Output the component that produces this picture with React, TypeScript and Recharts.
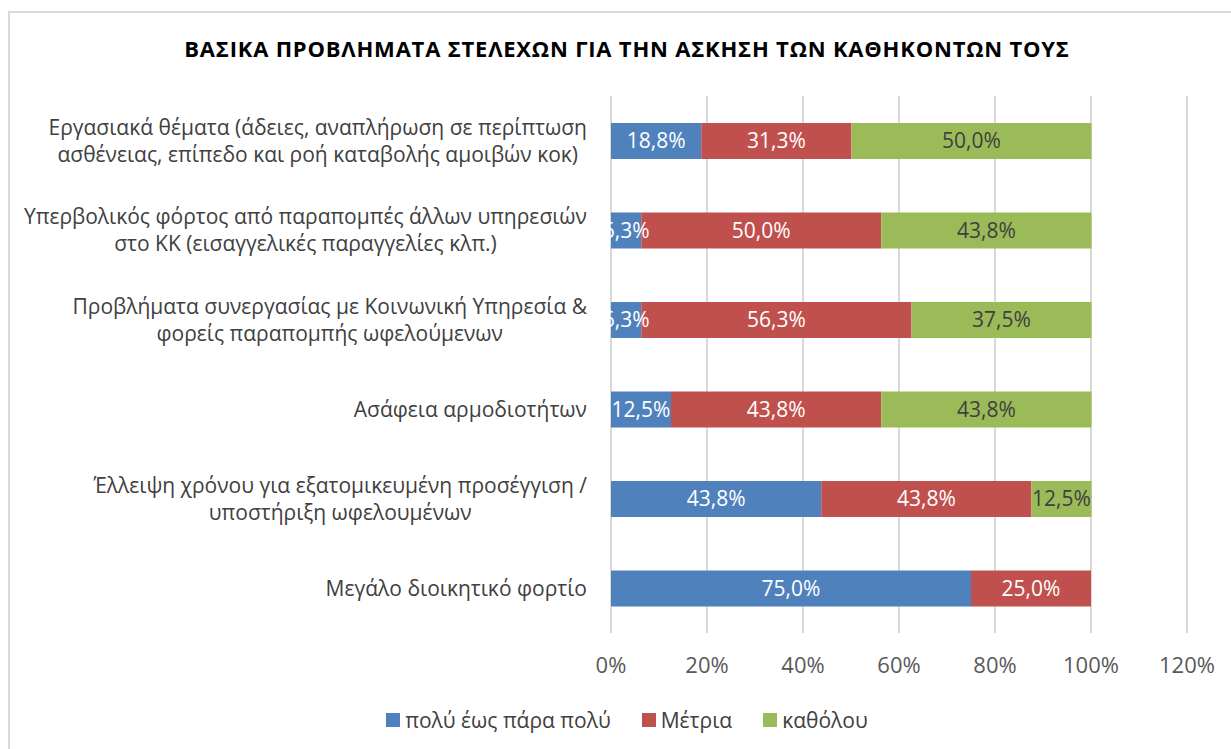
import React from "react";
import { BarChart, Bar, XAxis, YAxis, CartesianGrid, LabelList } from "recharts";

const title = "ΒΑΣΙΚΑ ΠΡΟΒΛΗΜΑΤΑ ΣΤΕΛΕΧΩΝ ΓΙΑ ΤΗΝ ΑΣΚΗΣΗ ΤΩΝ ΚΑΘΗΚΟΝΤΩΝ ΤΟΥΣ";

const categoryLines: string[][] = [
  ["Εργασιακά θέματα (άδειες, αναπλήρωση σε περίπτωση", "ασθένειας, επίπεδο και ροή καταβολής αμοιβών κοκ)"],
  ["Υπερβολικός φόρτος από παραπομπές άλλων υπηρεσιών", "στο ΚΚ (εισαγγελικές παραγγελίες κλπ.)"],
  ["Προβλήματα συνεργασίας με Κοινωνική Υπηρεσία &", "φορείς παραπομπής ωφελούμενων"],
  ["Ασάφεια αρμοδιοτήτων"],
  ["Έλλειψη χρόνου για εξατομικευμένη προσέγγιση /", "υποστήριξη ωφελουμένων"],
  ["Μεγάλο διοικητικό φορτίο"],
];

const seriesNames = ["πολύ έως πάρα πολύ", "Μέτρια", "καθόλου"];
const veryMuch = [18.8, 6.3, 6.3, 12.5, 43.8, 75.0];
const moderate = [31.3, 50.0, 56.3, 43.8, 43.8, 25.0];
const notAtAll = [50.0, 43.8, 37.5, 43.8, 12.5, 0];
const xTicks = [0, 20, 40, 60, 80, 100, 120];

const colors = ["#4F81BD", "#C0504D", "#9BBB59"];
const FONT = "'Open Sans', 'DejaVu Sans', sans-serif";

const data = categoryLines.map((lines, i) => ({
  name: lines.join(" "),
  a: veryMuch[i],
  b: moderate[i],
  c: notAtAll[i],
}));

let ctx: CanvasRenderingContext2D | null = null;
function textWidth(text: string, font: string) {
  if (!ctx) ctx = document.createElement("canvas").getContext("2d");
  if (!ctx) return text.length * 10;
  ctx.font = font;
  return ctx.measureText(text).width;
}

function CategoryTick(props: any) {
  const { x, y, payload } = props;
  const idx = data.findIndex(d => d.name === payload.value);
  const lines = categoryLines[idx] || [payload.value];
  const maxW = Math.max(...lines.map(l => textWidth(l, "21px 'Open Sans'")));
  const cx = x - maxW / 2;
  const lineH = 27;
  const startY = y - ((lines.length - 1) * lineH) / 2;
  return (
    <text x={cx} y={startY} textAnchor="middle" fill="#404040" fontSize={21} fontFamily={FONT}>
      {lines.map((l, i) => (
        <tspan key={i} x={cx} y={startY + i * lineH} dy="0.35em">{l}</tspan>
      ))}
    </text>
  );
}

const fmt = (v: any) => (v ? Number(v).toFixed(1).replace(".", ",") + "%" : "");

export default function App() {
  return (
    <div style={{ position: "fixed", left: 0, top: 0, width: 1231, height: 749, overflow: "hidden", background: "#fff" }}>
      <div
        style={{
          position: "absolute",
          left: 8,
          top: 11,
          width: 1300,
          height: 800,
          border: "2px solid #d9d9d9",
          fontFamily: FONT,
        }}
      >
        <div
          style={{
            position: "absolute",
            left: 0,
            width: 1234,
            top: 20,
            textAlign: "center",
            fontWeight: 700,
            fontSize: 22,
            color: "#000",
            letterSpacing: 0.8,
          }}
        >
          {title}
        </div>
        <BarChart
          width={1221}
          height={736}
          data={data}
          layout="vertical"
          margin={{ top: 83, right: 44, left: 0, bottom: 76 }}
          barSize={36}
        >
          <CartesianGrid horizontal={false} stroke="#d9d9d9" strokeWidth={2} />
          <XAxis
            type="number"
            domain={[0, 120]}
            ticks={xTicks}
            tickFormatter={(v: number) => v + "%"}
            axisLine={false}
            tickLine={false}
            tickSize={0}
            tickMargin={24}
            height={40}
            tick={{ fill: "#595959", fontSize: 22, fontFamily: FONT }}
          />
          <YAxis
            type="category"
            dataKey="name"
            width={601}
            axisLine={false}
            tickLine={false}
            tickSize={0}
            tickMargin={24}
            tick={<CategoryTick />}
            interval={0}
          />
          {["a", "b", "c"].map((k, i) => (
            <Bar key={k} dataKey={k} stackId="s" fill={colors[i]} name={seriesNames[i]} isAnimationActive={false}>
              <LabelList
                dataKey={k}
                position="center"
                formatter={fmt}
                fill={i === 2 ? "#404040" : "#ffffff"}
                fontSize={21}
                fontFamily={FONT}
              />
            </Bar>
          ))}
        </BarChart>
        <div
          style={{
            position: "absolute",
            top: 693,
            left: 0,
            width: 1234,
            display: "flex",
            justifyContent: "center",
            alignItems: "center",
            fontSize: 21,
            color: "#404040",
          }}
        >
          {seriesNames.map((n, i) => (
            <div key={n} style={{ display: "flex", alignItems: "center", marginRight: i < 2 ? 31 : 0 }}>
              <span style={{ width: 14, height: 14, background: colors[i], display: "inline-block", marginRight: 5 }} />
              <span>{n}</span>
            </div>
          ))}
        </div>
      </div>
    </div>
  );
}
